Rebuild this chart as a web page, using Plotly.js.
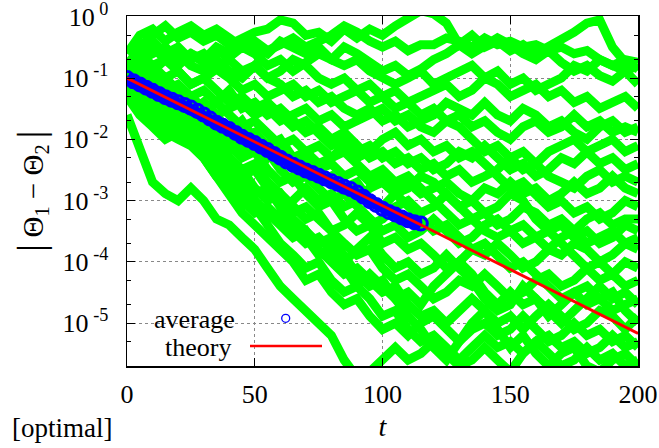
<!DOCTYPE html>
<html><head><meta charset="utf-8">
<script src="https://cdn.plot.ly/plotly-3.0.1.min.js"></script>
<style>html,body{margin:0;padding:0;background:#fff}</style>
</head><body><div id="chart" style="width:659px;height:448px"></div>
<script>
// time grid for trajectories
const tGrid = [0,5,10,15,20,25,30,35,40,45,50,55,60,65,70,75,80,85,90,95,100,105,110,115,120,125,130,135,140,145,150,155,160,165,170,175,180,185,190,195,200];

// green single-run trajectories |Theta1 - Theta2|
const g1 = [0.1,0.32,0.5,0.71,0.45,0.56,0.4,0.5,0.35,0.45,0.56,0.63,0.89,0.79,0.5,0.56,0.4,0.63,0.45,0.63,0.5,0.71,1,1.26,1.12,0.79,0.35,0.5,0.32,0.4,0.28,0.35,0.25,0.32,0.45,0.56,0.79,0.89,0.32,0.18,0.14];
const g2 = [0.1,0.2,0.25,0.32,0.2,0.25,0.18,0.28,0.22,0.32,0.25,0.16,0.2,0.13,0.18,0.25,0.2,0.32,0.25,0.18,0.13,0.16,0.11,0.14,0.2,0.25,0.35,0.25,0.32,0.45,0.35,0.25,0.2,0.28,0.18,0.13,0.16,0.11,0.089,0.13,0.079];
const g3 = [0.1,0.13,0.16,0.1,0.13,0.079,0.1,0.14,0.1,0.063,0.079,0.05,0.063,0.079,0.05,0.063,0.04,0.05,0.063,0.079,0.05,0.063,0.04,0.05,0.063,0.079,0.05,0.063,0.1,0.079,0.05,0.063,0.079,0.05,0.063,0.04,0.05,0.032,0.04,0.05,0.032];
const g4 = [0.079,0.05,0.063,0.04,0.05,0.032,0.04,0.025,0.032,0.04,0.025,0.032,0.02,0.025,0.032,0.02,0.025,0.016,0.02,0.025,0.032,0.02,0.025,0.016,0.013,0.02,0.025,0.016,0.02,0.013,0.01,0.016,0.02,0.013,0.016,0.025,0.016,0.02,0.013,0.016,0.013];
const g5 = [0.13,0.25,0.16,0.2,0.13,0.079,0.1,0.063,0.04,0.05,0.032,0.04,0.025,0.016,0.02,0.013,7.9e-3,0.01,6.3e-3,7.9e-3,5e-3,6.3e-3,4e-3,5e-3,3.2e-3,4e-3,6.3e-3,5e-3,7.9e-3,5e-3,3.2e-3,4e-3,2.5e-3,3.2e-3,5e-3,4e-3,6.3e-3,4e-3,5e-3,3.2e-3,4e-3];
const g6 = [0.063,0.032,0.04,0.025,0.016,0.02,0.013,7.9e-3,0.01,6.3e-3,7.9e-3,5e-3,6.3e-3,4e-3,5e-3,3.2e-3,4e-3,2.5e-3,3.2e-3,2e-3,2.5e-3,1.6e-3,2e-3,1.3e-3,1.6e-3,2e-3,1.3e-3,1e-3,1.6e-3,1.3e-3,2e-3,1.3e-3,1.6e-3,1e-3,1.3e-3,2e-3,1.3e-3,1.6e-3,2.5e-3,1.6e-3,1.3e-3];
const g7 = [0.025,6.3e-3,2e-3,1.3e-3,1e-3,1.6e-3,1e-3,5e-4,4e-4,2.5e-4,1.6e-4,7.9e-5,4e-5,2.5e-5,1.6e-5,1e-5,6.3e-6,2.5e-6,1.3e-6,1.6e-6,2.5e-6,4e-6,2.5e-6,3.2e-6,5e-6,3.2e-6,2e-6,2.5e-6,4e-6,2.5e-6,1.6e-6,3.2e-6,5e-6,3.2e-6,2e-6,2.5e-6,4e-6,2.5e-6,3.2e-6,2e-6,2.5e-6];
const g8 = [0.1,0.04,0.025,0.032,0.02,0.016,0.02,0.01,5e-3,3.2e-3,1.6e-3,1e-3,1.3e-3,6.3e-4,7.9e-4,5e-4,3.2e-4,4e-4,6.3e-4,4e-4,5e-4,7.9e-4,1e-3,6.3e-4,7.9e-4,1.3e-3,7.9e-4,5e-4,6.3e-4,4e-4,5e-4,7.9e-4,6.3e-4,4e-4,5e-4,3.2e-4,5e-4,6.3e-4,4e-4,5e-4,5e-4];
const g9 = [0.079,0.1,0.05,0.032,0.04,0.02,0.013,0.016,7.9e-3,5e-3,6.3e-3,3.2e-3,2e-3,2.5e-3,1.3e-3,7.9e-4,1e-3,5e-4,3.2e-4,4e-4,2e-4,2.5e-4,1.6e-4,2e-4,1.3e-4,7.9e-5,1e-4,1.6e-4,1.3e-4,2e-4,1.3e-4,7.9e-5,1e-4,1.6e-4,1.3e-4,2e-4,1.6e-4,1e-4,1.3e-4,2e-4,1.6e-4];
const g10 = [0.1,0.063,0.079,0.05,0.025,0.032,0.016,0.01,5e-3,3.2e-3,4e-3,2e-3,1.3e-3,7.9e-4,5e-4,6.3e-4,3.2e-4,2e-4,1.3e-4,1.6e-4,7.9e-5,5e-5,6.3e-5,4e-5,2.5e-5,3.2e-5,5e-5,4e-5,6.3e-5,4e-5,2.5e-5,3.2e-5,5e-5,6.3e-5,4e-5,5e-5,7.9e-5,5e-5,6.3e-5,4e-5,5e-5];
const g11 = [0.063,0.04,0.025,0.016,0.02,0.013,0.01,6.3e-3,3.2e-3,2e-3,1e-3,6.3e-4,4e-4,2.5e-4,3.2e-4,1.6e-4,1e-4,6.3e-5,7.9e-5,5e-5,3.2e-5,4e-5,2e-5,1.3e-5,1.6e-5,1e-5,1.6e-5,2.5e-5,1.6e-5,1e-5,1.3e-5,7.9e-6,1.3e-5,2e-5,1.3e-5,7.9e-6,1e-5,1.6e-5,1.3e-5,7.9e-6,1.3e-5];
const g12 = [0.1,0.05,0.032,0.04,0.02,0.013,0.01,7.9e-3,4e-3,2e-3,1.3e-3,1.6e-3,7.9e-4,4e-4,2.5e-4,1.3e-4,1.6e-4,7.9e-5,4e-5,2.5e-5,1.3e-5,1.6e-5,7.9e-6,5e-6,6.3e-6,4e-6,2.5e-6,4e-6,6.3e-6,4e-6,5e-6,3.2e-6,5e-6,6.3e-6,4e-6,5e-6,3.2e-6,4e-6,6.3e-6,4e-6,5e-6];
const g13 = [0.16,0.32,0.4,0.25,0.32,0.2,0.25,0.16,0.2,0.13,0.16,0.1,0.13,0.2,0.16,0.1,0.079,0.1,0.063,0.04,0.05,0.032,0.04,0.025,0.032,0.02,0.016,0.01,6.3e-3,7.9e-3,5e-3,6.3e-3,4e-3,6.3e-3,7.9e-3,0.01,6.3e-3,7.9e-3,0.01,6.3e-3,7.9e-3];
const g14 = [0.079,0.032,0.02,0.013,0.016,0.01,7.9e-3,5e-3,2.5e-3,1.6e-3,1e-3,5e-4,6.3e-4,1e-3,1.6e-3,1e-3,1.3e-3,7.9e-4,1e-3,1.6e-3,2e-3,1.3e-3,7.9e-4,5e-4,3.2e-4,4e-4,2.5e-4,1.6e-4,2e-4,1.3e-4,7.9e-5,1e-4,6.3e-5,4e-5,2.5e-5,3.2e-5,2e-5,2.5e-5,1.6e-5,2e-5,2.5e-5];
const g15 = [0.2,0.13,0.079,0.1,0.063,0.05,0.032,0.04,0.025,0.016,0.02,0.013,7.9e-3,0.01,6.3e-3,7.9e-3,5e-3,6.3e-3,4e-3,2.5e-3,3.2e-3,2e-3,2.5e-3,1.6e-3,1e-3,6.3e-4,4e-4,5e-4,3.2e-4,2.5e-4,3.2e-4,2e-4,2.5e-4,3.2e-4,2e-4,1.3e-4,7.9e-5,1e-4,6.3e-5,1e-4,7.9e-5];
const g16 = [0.04,0.063,0.032,0.016,0.025,0.013,0.016,0.01,0.016,0.01,0.013,7.9e-3,0.01,5e-3,6.3e-3,4e-3,5e-3,7.9e-3,5e-3,6.3e-3,0.01,0.013,7.9e-3,0.01,6.3e-3,7.9e-3,5e-3,6.3e-3,4e-3,2.5e-3,1.6e-3,2e-3,1.3e-3,7.9e-4,1e-3,6.3e-4,7.9e-4,5e-4,6.3e-4,1e-3,7.9e-4];
const g17 = [0.05,0.025,0.016,0.01,0.013,7.9e-3,5e-3,2.5e-3,1.3e-3,6.3e-4,4e-4,2.5e-4,1.6e-4,1e-4,5e-5,6.3e-5,3.2e-5,2e-5,2.5e-5,1.3e-5,7.9e-6,1e-5,6.3e-6,1e-5,1.3e-5,7.9e-6,5e-6,7.9e-6,1e-5,6.3e-6,7.9e-6,1.3e-5,7.9e-6,5e-6,6.3e-6,1e-5,6.3e-6,7.9e-6,5e-6,6.3e-6,4e-6];
const g18 = [0.1,0.16,0.13,0.2,0.16,0.25,0.2,0.32,0.25,0.4,0.32,0.25,0.4,0.32,0.25,0.32,0.2,0.16,0.2,0.13,0.1,0.079,0.1,0.13,0.079,0.1,0.13,0.16,0.1,0.13,0.079,0.1,0.063,0.079,0.1,0.16,0.13,0.2,0.16,0.13,0.16];
const g19 = [0.1,0.25,0.32,0.2,0.25,0.16,0.13,0.2,0.13,0.1,0.16,0.1,0.079,0.05,0.063,0.04,0.05,0.032,0.025,0.032,0.02,0.025,0.016,0.02,0.025,0.04,0.032,0.025,0.04,0.025,0.02,0.032,0.025,0.016,0.02,0.013,0.01,0.016,0.02,0.013,0.016];
const g20 = [0.063,0.079,0.04,0.05,0.032,0.025,0.032,0.02,0.013,7.9e-3,0.01,6.3e-3,3.2e-3,2e-3,2.5e-3,1.6e-3,1e-3,1.3e-3,7.9e-4,5e-4,3.2e-4,4e-4,2.5e-4,3.2e-4,5e-4,3.2e-4,2e-4,2.5e-4,4e-4,5e-4,3.2e-4,4e-4,2.5e-4,1.6e-4,2.5e-4,3.2e-4,2e-4,2.5e-4,3.2e-4,2e-4,2.5e-4];
const g21 = [0.079,0.05,0.025,0.032,0.016,0.01,6.3e-3,4e-3,2e-3,1.3e-3,7.9e-4,4e-4,2e-4,1.3e-4,7.9e-5,1e-4,5e-5,3.2e-5,4e-5,6.3e-5,4e-5,2.5e-5,3.2e-5,2e-5,4e-5,6.3e-5,1e-4,6.3e-5,3.2e-5,2e-5,3.2e-5,2e-5,2.5e-5,1.6e-5,1e-5,1.6e-5,2.5e-5,4e-5,2.5e-5,3.2e-5,2e-5];
const g22 = [0.13,0.063,0.04,0.02,0.025,0.013,7.9e-3,0.01,5e-3,2.5e-3,3.2e-3,1.6e-3,1e-3,5e-4,3.2e-4,2e-4,2.5e-4,1.3e-4,6.3e-5,4e-5,5e-5,2.5e-5,1.3e-5,7.9e-6,4e-6,2.5e-6,5e-6,1e-5,1.6e-5,7.9e-6,4e-6,6.3e-6,3.2e-6,2e-6,3.2e-6,4e-6,2e-6,1.6e-6,2.5e-6,3.2e-6,2e-6];
const g23 = [0.25,0.5,0.63,0.4,0.56,0.71,0.5,0.63,0.45,0.32,0.4,0.28,0.35,0.45,0.32,0.4,0.5,0.71,0.56,0.4,0.32,0.4,0.28,0.35,0.35,0.45,0.4,0.32,0.45,0.35,0.4,0.32,0.35,0.28,0.32,0.25,0.28,0.2,0.16,0.2,0.18];
const g24 = [0.1,0.079,0.13,0.063,0.079,0.05,0.063,0.04,0.063,0.032,0.04,0.025,0.032,0.02,0.013,0.016,0.01,0.013,7.9e-3,5e-3,6.3e-3,4e-3,5e-3,3.2e-3,4e-3,2.5e-3,3.2e-3,2e-3,2.5e-3,3.2e-3,5e-3,3.2e-3,4e-3,2.5e-3,2e-3,1.6e-3,2.5e-3,3.2e-3,2e-3,2.5e-3,2e-3];
const g25 = [0.05,0.032,0.02,0.013,0.01,7.9e-3,5e-3,2.5e-3,1.6e-3,1e-3,6.3e-4,7.9e-4,5e-4,3.2e-4,2e-4,2.5e-4,1.6e-4,1e-4,1.6e-4,2.5e-4,1.3e-4,7.9e-5,1e-4,6.3e-5,7.9e-5,1.3e-4,7.9e-5,5e-5,2.5e-5,1.6e-5,2e-5,4e-5,2.5e-5,1.3e-5,2e-5,3.2e-5,4e-5,2.5e-5,3.2e-5,1.6e-5,1e-5];
const g26 = [0.16,0.1,0.063,0.079,0.04,0.025,0.04,0.025,0.013,0.02,0.01,5e-3,7.9e-3,4e-3,2.5e-3,2e-3,2.5e-3,1.6e-3,2e-3,1e-3,7.9e-4,1.3e-3,1.6e-3,2.5e-3,2e-3,1.3e-3,7.9e-4,1e-3,6.3e-4,7.9e-4,1.3e-3,1e-3,5e-4,3.2e-4,4e-4,2.5e-4,3.2e-4,2e-4,2.5e-4,4e-4,3.2e-4];
const greenRuns = [g1,g2,g3,g4,g5,g6,g7,g8,g9,g10,g11,g12,g13,g14,g15,g16,g17,g18,g19,g20,g21,g22,g23,g24,g25,g26];

// average over runs (blue circles)
const tAvg = [0,2.5,5,7.5,10,12.5,15,17.5,20,22.5,25,27.5,30,32.5,35,37.5,40,42.5,45,47.5,50,52.5,55,57.5,60,62.5,65,67.5,70,72.5,75,77.5,80,82.5,85,87.5,90,92.5,95,97.5,100,102.5,105,107.5,110,112.5,115];
const avgVals = [0.1,0.0887,0.0787,0.0698,0.0619,0.055,0.0487,0.0442,0.0401,0.0364,0.033,0.0293,0.0254,0.0218,0.0187,0.0166,0.0147,0.0127,0.011,0.00977,0.00867,0.0076,0.00667,0.00578,0.00501,0.00435,0.00385,0.00346,0.0031,0.00282,0.00255,0.00229,0.00206,0.00187,0.00169,0.00154,0.00136,0.00116,0.00098,0.000849,0.000736,0.000653,0.000592,0.000531,0.000476,0.000443,0.000421];

// theory line
const tTheory = [0,200];
const theoryVals = [0.1,6.8e-6];

// axis ticks
const xTicks = [0,50,100,150,200];
const yTicks = [1,0.1,0.01,0.001,1e-4,1e-5];
const yTickText = ['10<sup> 0</sup>','10<sup> -1</sup>','10<sup> -2</sup>','10<sup> -3</sup>','10<sup> -4</sup>','10<sup> -5</sup>'];
const yMinorTicks = [0.5,0.2,0.05,0.02,5e-3,2e-3,5e-4,2e-4,5e-5,2e-5,5e-6,2e-6];

const traces = [];
greenRuns.forEach(function(run){
  traces.push({x:tGrid, y:run, type:'scatter', mode:'lines', line:{color:'#00ff00', width:9}, hoverinfo:'skip', showlegend:false});
});
traces.push({x:tAvg, y:avgVals, type:'scatter', mode:'lines+markers', name:'average',
  line:{color:'#0000ff', width:11}, marker:{symbol:'circle-open', size:13, color:'#0000ff', line:{width:3}}, showlegend:false});
traces.push({x:tTheory, y:theoryVals, type:'scatter', mode:'lines', name:'theory', line:{color:'#ff0000', width:2.8}, showlegend:false});

const serif = 'Liberation Serif, Times New Roman, serif';
const L = 127, R = 638, T = 16, B = 366;
const px = v => (v - L) / (R - L);
const py = v => (B - v) / (B - T);

const layout = {
  width:659, height:448,
  margin:{l:127, r:21, t:16, b:82},
  paper_bgcolor:'#ffffff', plot_bgcolor:'#ffffff',
  showlegend:false,
  font:{family:serif, size:26, color:'#000'},
  xaxis:{
    range:[0,200], tickmode:'array', tickvals:xTicks, ticktext:xTicks.map(String),
    ticks:'inside', ticklen:8, tickwidth:1, tickcolor:'#000',
    showline:true, linecolor:'#000', linewidth:1.5, mirror:'ticks',
    showgrid:true, gridcolor:'#888', griddash:'dot', gridwidth:1, zeroline:false,
    ticklabelstandoff:4, automargin:false, ticklabeloverflow:'allow',
    tickfont:{family:serif, size:26},
    title:{text:'<i>t</i>', font:{size:28, family:serif}, standoff:8}
  },
  yaxis:{
    type:'log', range:[-5.7,0.013], tickmode:'array', tickvals:yTicks, ticktext:yTickText,
    ticks:'inside', ticklen:8, tickwidth:1, tickcolor:'#000',
    minor:{tickmode:'array', tickvals:yMinorTicks, ticks:'inside', ticklen:4, tickwidth:1, tickcolor:'#000', showgrid:false},
    showline:true, linecolor:'#000', linewidth:1.5, mirror:'ticks',
    showgrid:true, gridcolor:'#888', griddash:'dot', gridwidth:1, zeroline:false,
    ticklabelstandoff:12, automargin:false, ticklabeloverflow:'allow',
    tickfont:{family:serif, size:26},
    title:{text:'│Θ<sub>1</sub> − Θ<sub>2</sub>│', font:{size:29, family:serif}, standoff:10}
  },
  annotations:[
    {text:'[optimal]', xref:'paper', yref:'paper', x:px(10), y:py(428), xanchor:'left', yanchor:'middle', showarrow:false, font:{size:27, family:serif}},
    {text:'average', xref:'paper', yref:'paper', x:px(237), y:py(319), xanchor:'right', yanchor:'middle', showarrow:false, font:{size:26, family:serif}},
    {text:'theory', xref:'paper', yref:'paper', x:px(233), y:py(347), xanchor:'right', yanchor:'middle', showarrow:false, font:{size:26, family:serif}}
  ],
  shapes:[
    {type:'circle', xref:'paper', yref:'paper', xsizemode:'pixel', ysizemode:'pixel', xanchor:px(285.7), yanchor:py(318.3), x0:-4, x1:4, y0:-4, y1:4, line:{color:'#0000ff', width:1.3}},
    {type:'line', xref:'paper', yref:'paper', x0:px(250), x1:px(322), y0:py(346), y1:py(346), line:{color:'#ff0000', width:2.5}}
  ]
};

Plotly.newPlot('chart', traces, layout, {staticPlot:true, displayModeBar:false});
</script>
</body></html>
